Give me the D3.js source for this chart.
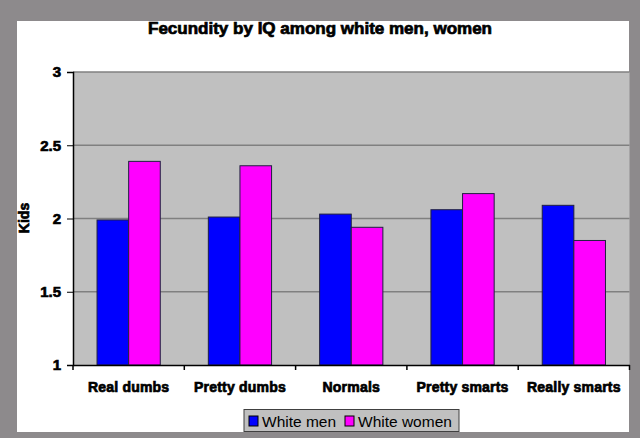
<!DOCTYPE html>
<html><head><meta charset="utf-8">
<script src="https://cdn.jsdelivr.net/npm/d3@7"></script>
<style>body{margin:0;background:#fff}svg{display:block}</style>
</head><body>
<svg id="c" width="640" height="438"></svg>
<script>
const categories = ["Real dumbs","Pretty dumbs","Normals","Pretty smarts","Really smarts"];
const seriesNames = ["White men","White women"];
const whiteMen = [1.99, 2.01, 2.03, 2.06, 2.09];
const whiteWomen = [2.39, 2.36, 1.94, 2.17, 1.85];
const yTicks = [1, 1.5, 2, 2.5, 3];
const colors = ["#0000ff", "#ff00ff"];
const title = "Fecundity by IQ among white men, women";
const yLabel = "Kids";

const FONT = "Liberation Sans, Arial, sans-serif";
const svg = d3.select("#c");
svg.append("rect").attr("width",640).attr("height",438).attr("fill","#8d8a8c");
svg.append("rect").attr("x",17).attr("y",21).attr("width",612).attr("height",411).attr("fill","#fff");

const m = {l:73, r:629.5, t:72, b:365};
const x = d3.scaleBand().domain(categories).range([m.l, m.r]);
const y = d3.scaleLinear().domain([1,3]).range([m.b, m.t]);
const x1 = d3.scaleBand().domain(seriesNames).range([0, x.bandwidth()]).paddingOuter(0.76).paddingInner(0);

svg.append("rect").attr("x",m.l).attr("y",m.t).attr("width",m.r-m.l).attr("height",m.b-m.t).attr("fill","#c0c0c0");

svg.append("g").selectAll("line").data(yTicks.slice(1)).join("line")
  .attr("x1",m.l).attr("x2",m.r).attr("y1",d=>y(d)).attr("y2",d=>y(d))
  .attr("stroke","#808080").attr("stroke-width",1.5);

const data = categories.map((c,i)=>({c, vals:[whiteMen[i], whiteWomen[i]]}));
svg.append("g").selectAll("g").data(data).join("g")
  .attr("transform", d=>`translate(${x(d.c)},0)`)
  .selectAll("rect").data(d=>d.vals.map((v,j)=>({v,j}))).join("rect")
  .attr("x", d=>x1(seriesNames[d.j])).attr("width", x1.bandwidth())
  .attr("y", d=>y(d.v)).attr("height", d=>y(1)-y(d.v))
  .attr("fill", d=>colors[d.j]).attr("stroke","#202040").attr("stroke-width",1);

function heavy(sel, size){
  sel.attr("font-family",FONT).attr("font-weight","bold").attr("font-size",size)
    .attr("fill","#000").attr("stroke","#000").attr("stroke-width",0.7);
}

const ya = svg.append("g").attr("transform",`translate(${m.l},0)`)
  .call(d3.axisLeft(y).tickValues(yTicks).tickFormat(d3.format("")).tickSize(6).tickPadding(6));
ya.select(".domain").attr("stroke","#000").attr("stroke-width",1.5);
heavy(ya.selectAll("text"), 15);

const xa = svg.append("g").attr("transform",`translate(0,${m.b})`)
  .call(d3.axisBottom(x).tickSizeOuter(0).tickSizeInner(0).tickPadding(17));
xa.select(".domain").attr("stroke","#000").attr("stroke-width",1.5);
heavy(xa.selectAll("text"), 14);
xa.selectAll("text").attr("letter-spacing","0.2");
svg.append("g").selectAll("line").data(categories.map(c=>x(c)).concat([m.r])).join("line")
  .attr("x1",d=>d).attr("x2",d=>d).attr("y1",m.b).attr("y2",m.b+5).attr("stroke","#000").attr("stroke-width",1.5);

heavy(svg.append("text").attr("x",320).attr("y",34).attr("text-anchor","middle")
  .attr("textLength",344).attr("lengthAdjust","spacingAndGlyphs").text(title), 16);

heavy(svg.append("text").attr("transform","translate(29,218) rotate(-90)").attr("text-anchor","middle").text(yLabel), 14);

const lg = svg.append("g");
lg.append("rect").attr("x",244).attr("y",409.5).attr("width",215).attr("height",22).attr("fill","#c0c0c0").attr("stroke","#404040");
const lx = [249, 345];
seriesNames.forEach((s,i)=>{
  lg.append("rect").attr("x",lx[i]).attr("y",416).attr("width",9).attr("height",10).attr("fill",colors[i]).attr("stroke","#000");
  lg.append("text").attr("x",lx[i]+13).attr("y",426.5).attr("font-family",FONT).attr("font-size",15.5).text(s);
});
</script>
</body></html>
